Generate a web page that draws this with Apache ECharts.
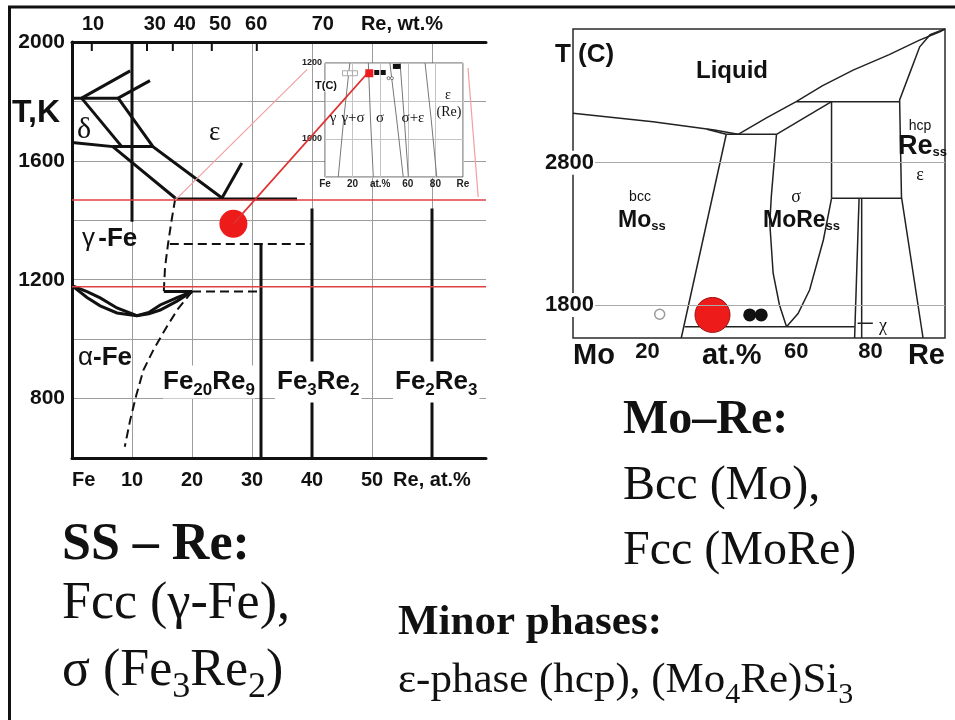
<!DOCTYPE html>
<html>
<head>
<meta charset="utf-8">
<script src="https://cdn.jsdelivr.net/npm/echarts@6/dist/echarts.min.js"></script>
<style>
  html, body { margin: 0; padding: 0; background: #fff; }
  #chart { width: 955px; height: 720px; }
</style>
</head>
<body>
<div id="chart"></div>
<script>
// ---------- Fe–Re phase diagram (x: Re, at.%; y: T, K) ----------
const feReTempTicks = [800, 1200, 1600, 2000];
const feReAtTicks = [0, 10, 20, 30, 40, 50, 60];
const feReAtLabels = ['Fe', '10', '20', '30', '40', '50', 'Re, at.%'];
// wt.% scale along the top edge, positioned in at.%
const wtTickAt = [3.3, 12.5, 16.8, 23.3, 30.8];
const wtLabels = ['10', '30', '40', '50', '60', '70', 'Re, wt.%'];
const wtLabelAt = [3.5, 13.8, 18.8, 24.7, 30.7, 41.8, 55];

// solid phase boundaries [at.%, K]
const feReSolid = [
  [[0, 1811], [7.7, 1811]],
  [[1.6, 1811], [9.7, 1903]],
  [[7.7, 1811], [13, 1870]],
  [[1.6, 1811], [8.3, 1648]],
  [[0, 1662], [6.8, 1648], [17.2, 1475]],
  [[7.7, 1811], [13.5, 1648], [25, 1475]],
  [[6.8, 1648], [13.5, 1648]],
  [[25, 1475], [28.3, 1593]],
  [[17.2, 1472], [37.5, 1472]],
  [[10, 2000], [10, 1395]],
  [[31.5, 1320], [31.5, 600]],
  [[40, 1440], [40, 600]],
  [[60, 1440], [60, 600]],
  [[0, 1180], [2.5, 1160], [4.7, 1139], [7.5, 1105], [10.8, 1079], [12.8, 1090], [14.7, 1115], [17.5, 1140], [20, 1160]],
  [[0, 1180], [2.5, 1140], [4.7, 1112], [7.5, 1088], [10.8, 1079], [12.8, 1085], [14.7, 1098], [17.5, 1128], [20, 1160]],
  [[15.3, 1160], [20, 1160]]
];
// dashed (estimated) boundaries
const feReDashed = [
  [[17.2, 1472], [16.6, 1400], [16.0, 1320], [15.5, 1240], [15.3, 1160]],
  [[16.3, 1320], [40, 1320]],
  [[20, 1160], [31.5, 1160]],
  [[20, 1160], [17.6, 1100], [15.8, 1042], [13.6, 965], [11.9, 896], [10.7, 810], [9.7, 728], [8.8, 638]]
];
const feReRedLevels = [1468, 1176];
const feReRedLink = [[26.9, 1388], [49.3, 1896]];
const feRePinkLinks = [
  [[17.2, 1468], [39.2, 1908]],
  [[67.7, 1478], [66, 1912]]
];
const feReRedDot = [26.9, 1388];

// ---------- inset: Fe–Re section, T in C ----------
const insetAtTicks = [0, 20, 40, 60, 80, 100];
const insetAtLabels = ['Fe', '20', 'at.%', '60', '80', 'Re'];
const insetTempTicks = [1000, 1200];
const insetCurves = [
  [[9.6, 900], [13.5, 1050], [18, 1200]],
  [[35, 900], [33, 1050], [31.4, 1200]],
  [[56.7, 900], [52, 1050], [47, 1200]],
  [[60.4, 900], [57.5, 1050], [54.4, 1200]],
  [[81, 900], [77, 1050], [72.5, 1200]]
];
const insetRed = [[32.1, 1173]];
const insetBlack = [[37.5, 1175], [42.2, 1175], [51, 1191], [53, 1191]];
const insetOpen = [[14.5, 1173], [18.1, 1173], [21.7, 1173]];
const insetSmall = [[46, 1160], [48.5, 1160]];

// ---------- Mo–Re phase diagram (x: Re, at.%; y: T, C) ----------
const moReAtTicks = [0, 20, 40, 60, 80, 100];
const moReAtLabels = ['Mo', '20', 'at.%', '60', '80', 'Re'];
const moReTempTicks = [1800, 2800];
const moReLines = [
  [[0, 3147], [21.5, 3088], [38, 3030], [44.4, 3000]],
  [[36, 3036], [41.2, 3000]],
  [[41.2, 3000], [54.7, 3000]],
  [[44.4, 3000], [52, 3115], [60, 3229], [67, 3340], [75.3, 3451], [85, 3560], [93, 3660], [98.6, 3721], [100, 3740]],
  [[54.7, 3000], [69.5, 3229]],
  [[60, 3229], [87.8, 3229]],
  [[100, 3740], [96, 3700], [93.2, 3615], [90.5, 3428], [87.8, 3241], [88.3, 2560], [94.1, 1568]],
  [[69.5, 3229], [69.5, 2550]],
  [[69.5, 2550], [88.3, 2550]],
  [[41.2, 3000], [29.1, 1568]],
  [[54.7, 3000], [53.3, 2560], [52.9, 2374], [53.8, 2023], [55.5, 1800], [57.4, 1647]],
  [[69.5, 2550], [67.3, 2257], [63.6, 1905], [60.5, 1740], [57.4, 1647]],
  [[30, 1647], [75.7, 1647]],
  [[76.9, 2550], [75.7, 1568]],
  [[77.6, 2550], [77.6, 1568]],
  [[76.5, 1671], [80.6, 1671]]
];
const moReRed = [[37.5, 1730]];
const moReBlack = [[47.5, 1730], [50.6, 1730]];
const moReOpen = [[23.3, 1735]];

const SANS = '"Liberation Sans", Arial, sans-serif';
const SERIF = '"Liberation Serif", "Times New Roman", serif';
const INK = '#111';

function paths(xi, yi, list, style, z) {
  return {
    type: 'lines', coordinateSystem: 'cartesian2d', xAxisIndex: xi, yAxisIndex: yi,
    polyline: true, silent: true, z: z || 2,
    data: list.map(c => ({ coords: c })),
    lineStyle: Object.assign({ opacity: 1, cap: 'butt', join: 'miter' }, style)
  };
}

function dots(xi, yi, data, symbol, size, itemStyle, z, extra) {
  return Object.assign({
    type: 'scatter', xAxisIndex: xi, yAxisIndex: yi, silent: true, z: z,
    symbol: symbol, symbolSize: size, data: data,
    itemStyle: Object.assign({ opacity: 1 }, itemStyle)
  }, extra || {});
}

function txt(x, y, text, style) {
  return {
    type: 'text', x: x, y: y, z: 50, silent: true,
    style: Object.assign({ text: text, fill: INK, align: 'left', verticalAlign: 'middle' }, style)
  };
}

const subRich = (base, sub, shift, family, weight) => ({
  b: { fontSize: base, fontFamily: family, fontWeight: weight, fill: INK },
  s: { fontSize: sub, fontFamily: family, fontWeight: weight, fill: INK, padding: [shift, 0, 0, 0] }
});

const option = {
  animation: false,
  backgroundColor: '#fff',
  grid: [
    { left: 72, top: 42, width: 414, height: 416, show: false },
    { left: 325, top: 63, width: 138, height: 114, show: false },
    { left: 573, top: 29, width: 372, height: 309, show: true, backgroundColor: 'transparent', borderColor: '#2a2a2a', borderWidth: 1.5 }
  ],
  xAxis: [
    {
      gridIndex: 0, type: 'value', min: 0, max: 69, interval: 10, position: 'bottom',
      axisLine: { show: true, onZero: false, lineStyle: { color: INK, width: 3 } },
      axisTick: { show: false },
      splitLine: { show: true, showMaxLine: false, lineStyle: { color: '#9c9c9c', width: 1 } },
      axisLabel: {
        margin: 12, color: INK, fontSize: 20, fontWeight: 'bold', fontFamily: SANS,
        alignMinLabel: 'left',
        formatter: v => { const i = feReAtTicks.indexOf(v); return i < 0 ? '' : feReAtLabels[i]; }
      }
    },
    {
      gridIndex: 0, type: 'value', min: 0, max: 69, position: 'top',
      axisLine: { show: true, onZero: false, lineStyle: { color: INK, width: 3 } },
      axisTick: { show: false }, axisLabel: { show: false }, splitLine: { show: false }
    },
    {
      gridIndex: 1, type: 'value', min: 0, max: 100, interval: 20, z: 3,
      axisLine: { show: false }, axisTick: { show: false },
      splitLine: { show: true, lineStyle: { color: '#c4c4c4', width: 1 } },
      axisLabel: {
        margin: 2, color: '#222', fontSize: 10, fontWeight: 'bold', fontFamily: SANS,
        formatter: v => { const i = insetAtTicks.indexOf(v); return i < 0 ? '' : insetAtLabels[i]; }
      }
    },
    {
      gridIndex: 2, type: 'value', min: 0, max: 100, interval: 20,
      axisLine: { show: false }, axisTick: { show: false }, splitLine: { show: false },
      axisLabel: {
        margin: 3, color: INK, alignMinLabel: 'left', alignMaxLabel: 'right',
        formatter: v => {
          const i = moReAtTicks.indexOf(v);
          if (i < 0) return '';
          const t = moReAtLabels[i];
          if (/^\d+$/.test(t)) return '{n|' + t + '}';
          if (t === 'at.%') return '{u|' + t + '}';
          return '{b|' + t + '}';
        },
        rich: {
          b: { fontSize: 29, fontWeight: 'bold', fontFamily: SANS, color: INK, lineHeight: 30 },
          u: { fontSize: 29, fontWeight: 'bold', fontFamily: SANS, color: INK, lineHeight: 30, padding: [0, 0, 0, 20] },
          n: { fontSize: 22, fontWeight: 'bold', fontFamily: SANS, color: INK, lineHeight: 22 }
        }
      }
    }
  ],
  yAxis: [
    {
      gridIndex: 0, type: 'value', min: 600, max: 2000, interval: 200,
      axisLine: { show: true, onZero: false, lineStyle: { color: INK, width: 3 } },
      axisTick: { show: false },
      splitLine: { show: true, lineStyle: { color: '#9c9c9c', width: 1 } },
      axisLabel: {
        margin: 7, color: INK, fontSize: 21, fontWeight: 'bold', fontFamily: SANS,
        formatter: v => feReTempTicks.indexOf(v) >= 0 ? String(v) : ''
      }
    },
    {
      gridIndex: 1, type: 'value', min: 900, max: 1200, interval: 100, z: 3,
      axisLine: { show: false }, axisTick: { show: false },
      splitLine: { show: true, lineStyle: { color: '#c4c4c4', width: 1 } },
      axisLabel: {
        margin: 3, color: '#222', fontSize: 9, fontWeight: 'bold', fontFamily: SANS,
        formatter: v => insetTempTicks.indexOf(v) >= 0 ? String(v) : ''
      }
    },
    {
      gridIndex: 2, type: 'value', min: 1568, max: 3740, z: 5,
      axisLine: { show: false }, axisTick: { show: false }, splitLine: { show: false },
      axisLabel: {
        show: true, customValues: moReTempTicks, margin: -22,
        color: INK, fontSize: 22, fontWeight: 'bold', fontFamily: SANS,
        backgroundColor: '#fff', padding: [1, 1],
        formatter: v => String(v)
      }
    }
  ],
  series: [
    // Fe–Re: wt.% ticks and labels on the top edge
    dots(1, 0, wtTickAt.map(x => [x, 2000]), 'rect', [2, 9], { color: INK }, 3, { symbolOffset: [0, 4.5] }),
    dots(1, 0, wtLabelAt.map((x, i) => ({ name: wtLabels[i], value: [x, 2000] })), 'circle', 0, { color: INK }, 3, {
      label: {
        show: true, position: 'top', distance: 8, formatter: p => p.name,
        color: INK, fontSize: 20, fontWeight: 'bold', fontFamily: SANS
      }
    }),
    paths(0, 0, feReSolid, { color: INK, width: 3 }),
    paths(0, 0, feReDashed, { color: INK, width: 2, type: [9, 5] }),
    paths(0, 0, feReRedLevels.map(t => [[0, t], [69, t]]), { color: '#e04040', width: 1.5 }, 3),
    paths(0, 0, feRePinkLinks, { color: '#f2a0a0', width: 1.2 }, 3),
    paths(0, 0, [feReRedLink], { color: '#e03030', width: 1.6 }, 6),
    dots(0, 0, [feReRedDot], 'circle', 28, { color: '#ee1b1b' }, 4),
    // inset panel: white card with frame
    {
      type: 'custom', xAxisIndex: 2, yAxisIndex: 1, z: 1, silent: true, clip: false,
      data: [[0, 900]],
      renderItem: (params, api) => {
        const a = api.coord([0, 1200]);
        const b = api.coord([100, 900]);
        return {
          type: 'rect',
          shape: { x: a[0], y: a[1], width: b[0] - a[0], height: b[1] - a[1] },
          style: { fill: '#fff', stroke: '#555', lineWidth: 1 }
        };
      }
    },
    paths(2, 1, insetCurves, { color: '#777', width: 1 }, 4),
    dots(2, 1, insetOpen, 'rect', 5, { color: '#fff', borderColor: '#aaa', borderWidth: 1 }, 5),
    dots(2, 1, insetBlack, 'rect', 5, { color: INK }, 5),
    dots(2, 1, insetSmall, 'circle', 3, { color: '#fff', borderColor: '#555', borderWidth: 0.8 }, 5),
    dots(2, 1, insetRed, 'rect', 8, { color: '#ee1b1b' }, 7),
    // Mo–Re diagram: isotherm guides
    dots(3, 2, [], 'circle', 0, { color: INK }, 1, {
      markLine: {
        silent: true, symbol: ['none', 'none'], label: { show: false },
        lineStyle: { color: '#aaa', width: 1, type: 'solid', opacity: 1 },
        data: moReTempTicks.map(t => ({ yAxis: t }))
      }
    }),
    paths(3, 2, moReLines, { color: '#222', width: 1.5 }),
    dots(3, 2, moReOpen, 'circle', 10, { color: '#fff', borderColor: '#999', borderWidth: 1.5 }, 4),
    dots(3, 2, moReBlack, 'circle', 13, { color: INK }, 4),
    dots(3, 2, moReRed, 'circle', 35, { color: '#ee1b1b', borderColor: '#a01010', borderWidth: 1 }, 4)
  ],
  graphic: [
    // page frame
    { type: 'line', z: 60, silent: true, shape: { x1: 8, y1: 7, x2: 955, y2: 7 }, style: { stroke: INK, lineWidth: 3 } },
    { type: 'line', z: 60, silent: true, shape: { x1: 9.5, y1: 6, x2: 9.5, y2: 720 }, style: { stroke: INK, lineWidth: 3 } },

    // Fe–Re annotations
    txt(12, 113, 'T,K', { fontSize: 32, fontWeight: 'bold', fontFamily: SANS }),
    txt(77, 130, 'δ', { fontSize: 30, fontFamily: SERIF }),
    txt(209, 133, 'ε', { fontSize: 27, fontFamily: SERIF }),
    txt(82, 239, '{g|γ} {b|-Fe}', { rich: {
      g: { fontSize: 26, fontFamily: SANS, fill: INK },
      b: { fontSize: 26, fontFamily: SANS, fontWeight: 'bold', fill: INK } } }),
    txt(78, 358, '{g|α}{b|-Fe}', { rich: {
      g: { fontSize: 26, fontFamily: SANS, fill: INK },
      b: { fontSize: 26, fontFamily: SANS, fontWeight: 'bold', fill: INK } } }),
    txt(163, 382, '{b|Fe}{s|20}{b|Re}{s|9}', { rich: subRich(26, 17, 16, SANS, 'bold'), backgroundColor: '#fff' }),
    txt(275, 382, '{b|Fe}{s|3}{b|Re}{s|2}', { rich: subRich(26, 17, 16, SANS, 'bold'), backgroundColor: '#fff', padding: [4, 2] }),
    txt(393, 382, '{b|Fe}{s|2}{b|Re}{s|3}', { rich: subRich(26, 17, 16, SANS, 'bold'), backgroundColor: '#fff', padding: [4, 2] }),

    // inset annotations
    txt(315, 86, 'T(C)', { fontSize: 11, fontWeight: 'bold', fontFamily: SANS, backgroundColor: '#fff' }),
    txt(333, 118, 'γ', { fontSize: 15, fontFamily: SERIF, align: 'center' }),
    txt(353, 118, 'γ+σ', { fontSize: 15, fontFamily: SERIF, align: 'center' }),
    txt(380, 118, 'σ', { fontSize: 15, fontFamily: SERIF, align: 'center' }),
    txt(413, 118, 'σ+ε', { fontSize: 15, fontFamily: SERIF, align: 'center' }),
    txt(449, 112, '(Re)', { fontSize: 14, fontFamily: SERIF, align: 'center' }),
    txt(448, 95, 'ε', { fontSize: 14, fontFamily: SERIF, align: 'center' }),

    // Mo–Re annotations
    txt(555, 55, 'T (C)', { fontSize: 26, fontWeight: 'bold', fontFamily: SANS }),
    txt(732, 71, 'Liquid', { fontSize: 24, fontWeight: 'bold', fontFamily: SANS, align: 'center' }),
    txt(920, 126, 'hcp', { fontSize: 14, fontFamily: SANS, align: 'center' }),
    txt(898, 147, '{b|Re}{s|ss}', { rich: subRich(27, 13, 10, SANS, 'bold') }),
    txt(920, 175, 'ε', { fontSize: 18, fontFamily: SERIF, align: 'center' }),
    txt(640, 197, 'bcc', { fontSize: 14, fontFamily: SANS, align: 'center' }),
    txt(618, 221, '{b|Mo}{s|ss}', { rich: subRich(23, 13, 10, SANS, 'bold') }),
    txt(796, 197, 'σ', { fontSize: 18, fontFamily: SERIF, align: 'center' }),
    txt(763, 221, '{b|MoRe}{s|ss}', { rich: subRich(23, 13, 10, SANS, 'bold') }),
    txt(883, 326, 'χ', { fontSize: 18, fontFamily: SERIF, align: 'center' }),

    // text blocks
    txt(62, 546, 'SS \u2013 Re:', { fontSize: 52, fontWeight: 'bold', fontFamily: SERIF }),
    txt(62, 604, 'Fcc (γ-Fe),', { fontSize: 52, fontFamily: SERIF }),
    txt(62, 671, '{b|σ (Fe}{s|3}{b|Re}{s|2}{b|)}', { rich: subRich(52, 36, 34, SERIF, 'normal') }),
    txt(623, 421, 'Mo\u2013Re:', { fontSize: 48, fontWeight: 'bold', fontFamily: SERIF }),
    txt(623, 486, 'Bcc (Mo),', { fontSize: 48, fontFamily: SERIF }),
    txt(623, 551, 'Fcc (MoRe)', { fontSize: 48, fontFamily: SERIF }),
    txt(398, 623, 'Minor phases:', { fontSize: 43, fontWeight: 'bold', fontFamily: SERIF }),
    txt(398, 681, '{b|ε-phase (hcp), (Mo}{s|4}{b|Re)Si}{s|3}', { rich: subRich(43, 30, 28, SERIF, 'normal') })
  ]
};

const chart = echarts.init(document.getElementById('chart'), null, { renderer: 'canvas', width: 955, height: 720 });
chart.setOption(option);
</script>
</body>
</html>
